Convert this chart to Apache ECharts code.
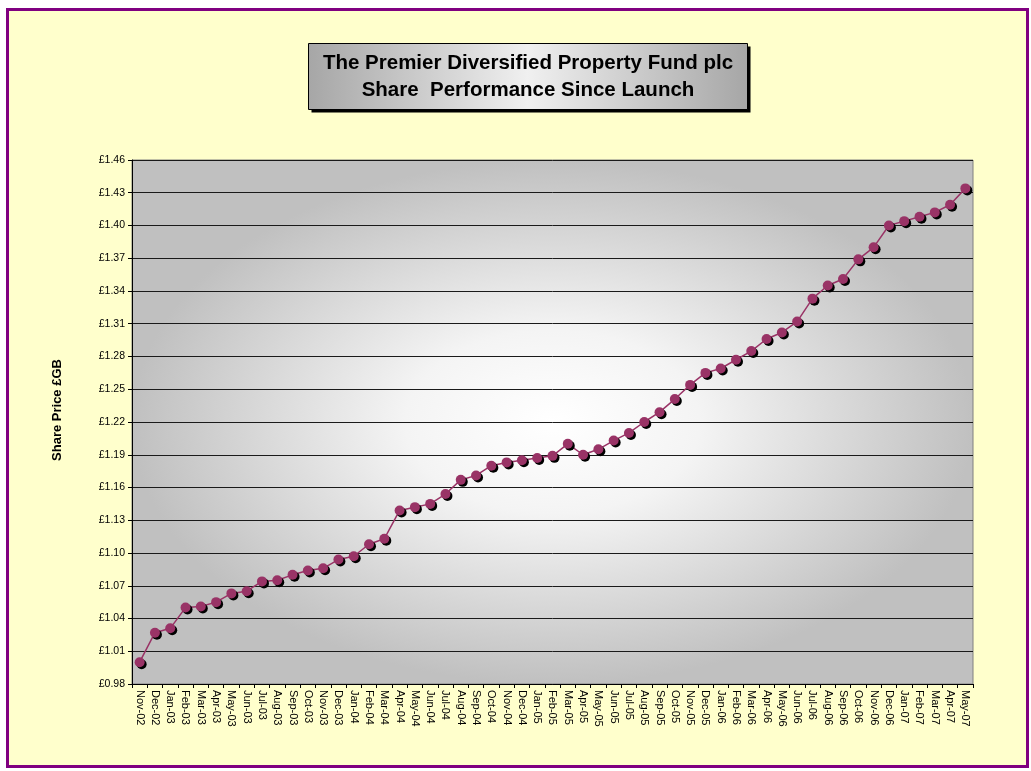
<!DOCTYPE html>
<html><head><meta charset="utf-8">
<script src="https://cdn.jsdelivr.net/npm/echarts@6/dist/echarts.min.js"></script>
<style>html,body{margin:0;padding:0;background:#fff}#c{width:1031px;height:771px}</style>
</head><body><div id="c"></div>
<script>
var categories = ["Nov-02","Dec-02","Jan-03","Feb-03","Mar-03","Apr-03","May-03","Jun-03","Jul-03","Aug-03","Sep-03","Oct-03","Nov-03","Dec-03","Jan-04","Feb-04","Mar-04","Apr-04","May-04","Jun-04","Jul-04","Aug-04","Sep-04","Oct-04","Nov-04","Dec-04","Jan-05","Feb-05","Mar-05","Apr-05","May-05","Jun-05","Jul-05","Aug-05","Sep-05","Oct-05","Nov-05","Dec-05","Jan-06","Feb-06","Mar-06","Apr-06","May-06","Jun-06","Jul-06","Aug-06","Sep-06","Oct-06","Nov-06","Dec-06","Jan-07","Feb-07","Mar-07","Apr-07","May-07"];
var sharePrice = [1.000,1.027,1.031,1.050,1.051,1.055,1.063,1.065,1.074,1.075,1.080,1.084,1.086,1.094,1.097,1.108,1.113,1.139,1.142,1.145,1.154,1.167,1.171,1.180,1.183,1.185,1.187,1.189,1.200,1.190,1.195,1.203,1.210,1.220,1.229,1.241,1.254,1.265,1.269,1.277,1.285,1.296,1.302,1.312,1.333,1.345,1.351,1.369,1.380,1.400,1.404,1.408,1.412,1.419,1.434];
var yMin = 0.98, yMax = 1.46, yStep = 0.03;
var titleLines = ["The Premier Diversified Property Fund plc", "Share  Performance Since Launch"];
var yAxisTitle = "Share Price £GB";

var FONT = "Arial, 'Liberation Sans', sans-serif";
var chart = echarts.init(document.getElementById('c'), null, {renderer:'canvas'});
// axis counts from 0 so that ticks fall on multiples of the step
var offsetData = sharePrice.map(function(v){ return +(v - yMin).toFixed(4); });

var G = {left:132, right:58, top:160, bottom:87};
var W = 1031, H = 771;
var pw = W - G.left - G.right, ph = H - G.top - G.bottom;

chart.setOption({
  animation:false,
  backgroundColor:'#ffffff',
  graphic:[
    {type:'rect', z:-10, silent:true, shape:{x:7.5,y:9.5,width:1020,height:757},
     style:{fill:'#ffffcc', stroke:'#800080', lineWidth:3}},
    // elliptical radial plot-area fill
    {type:'rect', z:-5, silent:true, x:G.left + pw/2, y:G.top + ph/2, scaleX:pw/ph, scaleY:1,
     shape:{x:-ph/2, y:-ph/2, width:ph, height:ph},
     style:{fill:{type:'radial',x:0.5,y:0.5,r:0.5,colorStops:[{offset:0,color:'#ffffff'},{offset:0.35,color:'#f4f4f4'},{offset:1,color:'#c0c0c0'}]}}},
    {type:'rect', z:9, silent:true, shape:{x:311.5,y:46.5,width:439,height:66}, style:{fill:'#000'}},
    {type:'rect', z:10, silent:true, shape:{x:308.5,y:43.5,width:439,height:66},
     style:{fill:{type:'linear',x:0,y:0,x2:1,y2:0,colorStops:[{offset:0,color:'#a6a6a6'},{offset:0.5,color:'#f0f0f0'},{offset:1,color:'#a6a6a6'}]},
       stroke:'#000', lineWidth:1}},
    {type:'text', z:11, x:528, y:76.5,
     style:{text:titleLines.join('\n'), textAlign:'center', textVerticalAlign:'middle',
       font:'bold 20.5px ' + FONT, fill:'#000', lineHeight:27}},
    {type:'text', z:11, x:57, y:410, rotation:Math.PI/2,
     style:{text:yAxisTitle, textAlign:'center', textVerticalAlign:'middle',
       font:'bold 13px ' + FONT, fill:'#000'}}
  ],
  grid:{left:G.left, right:G.right, top:G.top, bottom:G.bottom, show:true, borderColor:'#808080', borderWidth:1,
    backgroundColor:'transparent'},
  xAxis:{type:'category', data:categories, boundaryGap:true,
    axisLine:{lineStyle:{color:'#000',width:1}},
    axisTick:{show:true, length:4, lineStyle:{color:'#000'}},
    axisLabel:{rotate:-90, fontSize:11, fontFamily:FONT, color:'#000', interval:0, margin:6}},
  yAxis:{type:'value', min:0, max:+(yMax-yMin).toFixed(2), interval:yStep,
    axisLine:{show:true, lineStyle:{color:'#000'}},
    axisTick:{show:true, length:4, lineStyle:{color:'#000'}},
    axisLabel:{fontSize:10.5, fontFamily:FONT, color:'#000', margin:7,
      formatter:function(v){ return '£' + (v + yMin).toFixed(2); }},
    splitLine:{show:true, lineStyle:{color:'#1a1a1a', width:1}}},
  series:[{type:'line', data:offsetData, symbol:'circle', symbolSize:10,
    lineStyle:{color:'#993366', width:1.5},
    itemStyle:{color:'#993366', shadowColor:'#000', shadowOffsetX:2, shadowOffsetY:2, shadowBlur:0}}]
});
</script></body></html>
